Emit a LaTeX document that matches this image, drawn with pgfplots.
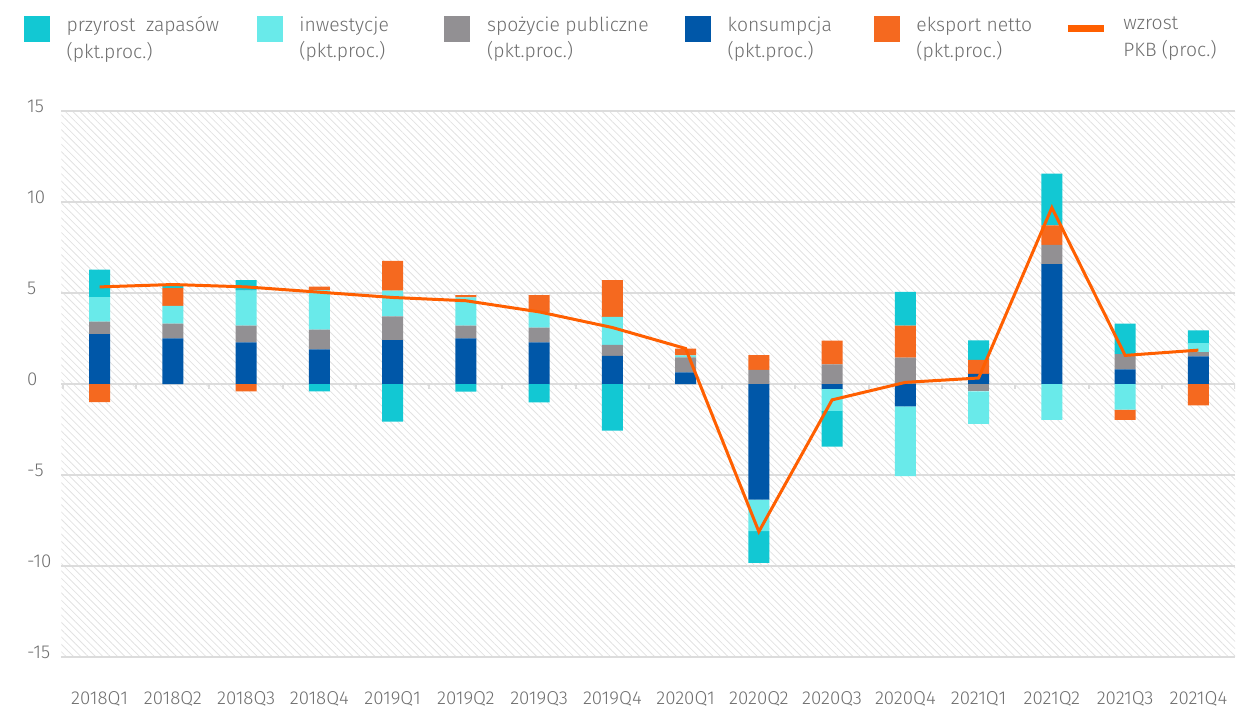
\documentclass[border=0pt]{standalone}
\usepackage{fontspec}
\setmainfont{Fira Sans Light}
\usepackage{pgfplots}
\pgfplotsset{compat=1.18}
\usepackage{pgfplotstable}
\usetikzlibrary{patterns.meta}

\definecolor{zteal}{HTML}{12C8D3}
\definecolor{zcyan}{HTML}{69EAEA}
\definecolor{zgray}{HTML}{929093}
\definecolor{zblue}{HTML}{0057A8}
\definecolor{zorange}{HTML}{F5691F}
\definecolor{gdpline}{HTML}{FF5F00}
\definecolor{txtgray}{HTML}{6E6E6E}
\definecolor{gridgray}{HTML}{DCDCDC}
\definecolor{hatchgray}{HTML}{E2E2E2}

% contributions to GDP growth (pp) and GDP growth (%)
\pgfplotstableread{
x  C      P      I      E      S      GDP
0   2.74  0.69   1.34  -1.00   1.51   5.33
1   2.50  0.82   0.97   0.97   0.13   5.46
2   2.28  0.93   1.92  -0.40   0.57   5.33
3   1.90  1.08   2.17   0.20  -0.40   5.04
4   2.41  1.30   1.41   1.64  -2.07   4.75
5   2.50  0.70   1.55   0.13  -0.42   4.57
6   2.28  0.82   0.83   0.95  -1.01   3.96
7   1.55  0.60   1.54   2.01  -2.56   3.10
8   0.64  0.82   0.11   0.37   0.00   1.95
9  -6.34  0.77  -1.73   0.82  -1.75  -8.10
10 -0.27  1.08  -1.21   1.30  -1.95  -0.87
11 -1.22  1.45  -3.83   1.75   1.85   0.09
12  0.55 -0.40  -1.79   0.78   1.07   0.33
13  6.58  1.06  -1.97   1.07   2.84   9.68
14  0.80  0.84  -1.40  -0.57   1.67   1.57
15  1.52  0.23   0.50  -1.17   0.69   1.86
}\contrib

\pgfplotsset{
  frame/.style={width=880.1pt, height=410pt, scale only axis,
    xmin=-0.52, xmax=15.5, ymin=-15, ymax=15,
    at={(0pt,0pt)}, anchor=south west},
  bars/.style={frame, hide axis, ybar stacked, bar width=15.75pt},
  sq legend/.style={legend image code/.code={%
    \fill[##1] (0pt,-8pt) rectangle (19.5pt,11.5pt);
    \path (32pt,0pt);}},
  ln legend/.style={legend image code/.code={%
    \draw[##1] (0pt,2pt) -- (27pt,2pt);
    \path (39pt,0pt);}},
}

\begin{document}
\begin{tikzpicture}
\useasboundingbox (-46.1pt,-38pt) rectangle (892.1pt,493pt);

% frame, grid, labels, legend
\begin{axis}[frame,
  axis background/.style={pattern={Lines[angle=-45,distance=3.9pt,line width=0.6pt]},
    pattern color=hatchgray},
  axis line style={draw=none},
  ytick={-15,-10,-5,0,5,10,15},
  ymajorgrids, grid style={gridgray, line width=1.6pt},
  xtick={0,...,15},
  xticklabels={2018Q1,2018Q2,2018Q3,2018Q4,2019Q1,2019Q2,2019Q3,2019Q4,
    2020Q1,2020Q2,2020Q3,2020Q4,2021Q1,2021Q2,2021Q3,2021Q4},
  major tick length=0pt,
  /pgf/number format/assume math mode=true,
  tick label style={font=\fontsize{14}{16}\selectfont, text=txtgray},
  yticklabel style={anchor=west, inner sep=0pt, xshift=-25.9pt, yshift=3.5pt},
  xticklabel style={anchor=center, yshift=-31.3pt},
  legend columns=6,
  legend cell align=left,
  legend style={at={(axis description cs:-0.0319,1.1732)}, anchor=north west,
    draw=none, fill=none, inner sep=0pt, outer sep=0pt,
    column sep=0pt, row sep=0pt,
    font=\fontsize{14.5}{20}\selectfont, text=txtgray,
    nodes={inner sep=0pt, outer sep=0pt}},
]
\addplot[ycomb, gridgray, line width=1.5pt, forget plot] coordinates {
  (-0.5,-0.28)(0.5,-0.28)(1.5,-0.28)(2.5,-0.28)(3.5,-0.28)(4.5,-0.28)
  (5.5,-0.28)(6.5,-0.28)(7.5,-0.28)(8.5,-0.28)(9.5,-0.28)(10.5,-0.28)
  (11.5,-0.28)(12.5,-0.28)(13.5,-0.28)(14.5,-0.28)(15.5,-0.28)};
\addlegendimage{sq legend, fill=zteal, draw=none}
\addlegendentry{\parbox[c]{142.5pt}{przyrost\ \ zapasów\\(pkt.proc.)}}
\addlegendimage{sq legend, fill=zcyan, draw=none}
\addlegendentry{\parbox[c]{108.75pt}{inwestycje\\(pkt.proc.)}}
\addlegendimage{sq legend, fill=zgray, draw=none}
\addlegendentry{\parbox[c]{148.5pt}{spożycie publiczne\\(pkt.proc.)}}
\addlegendimage{sq legend, fill=zblue, draw=none}
\addlegendentry{\parbox[c]{109.5pt}{konsumpcja\\(pkt.proc.)}}
\addlegendimage{sq legend, fill=zorange, draw=none}
\addlegendentry{\parbox[c]{111pt}{eksport netto\\(pkt.proc.)}}
\addlegendimage{ln legend, gdpline, line width=5.25pt}
\addlegendentry{\parbox[c]{80pt}{wzrost\\PKB (proc.)}}
\end{axis}

% positive contributions
\begin{axis}[bars]
\addplot[fill=zblue, draw=none] table[x=x, y expr={max(\thisrow{C},0)}] {\contrib};
\addplot[fill=zgray, draw=none] table[x=x, y expr={max(\thisrow{P},0)}] {\contrib};
\addplot[fill=zcyan, draw=none] table[x=x, y expr={max(\thisrow{I},0)}] {\contrib};
\addplot[fill=zorange, draw=none] table[x=x, y expr={max(\thisrow{E},0)}] {\contrib};
\addplot[fill=zteal, draw=none] table[x=x, y expr={max(\thisrow{S},0)}] {\contrib};
\end{axis}

% negative contributions
\begin{axis}[bars]
\addplot[fill=zblue, draw=none] table[x=x, y expr={min(\thisrow{C},0)}] {\contrib};
\addplot[fill=zgray, draw=none] table[x=x, y expr={min(\thisrow{P},0)}] {\contrib};
\addplot[fill=zcyan, draw=none] table[x=x, y expr={min(\thisrow{I},0)}] {\contrib};
\addplot[fill=zorange, draw=none] table[x=x, y expr={min(\thisrow{E},0)}] {\contrib};
\addplot[fill=zteal, draw=none] table[x=x, y expr={min(\thisrow{S},0)}] {\contrib};
\end{axis}

% GDP growth
\begin{axis}[frame, hide axis]
\addplot[gdpline, line width=2.25pt, mark=none] table[x=x, y=GDP] {\contrib};
\end{axis}
\end{tikzpicture}
\end{document}
